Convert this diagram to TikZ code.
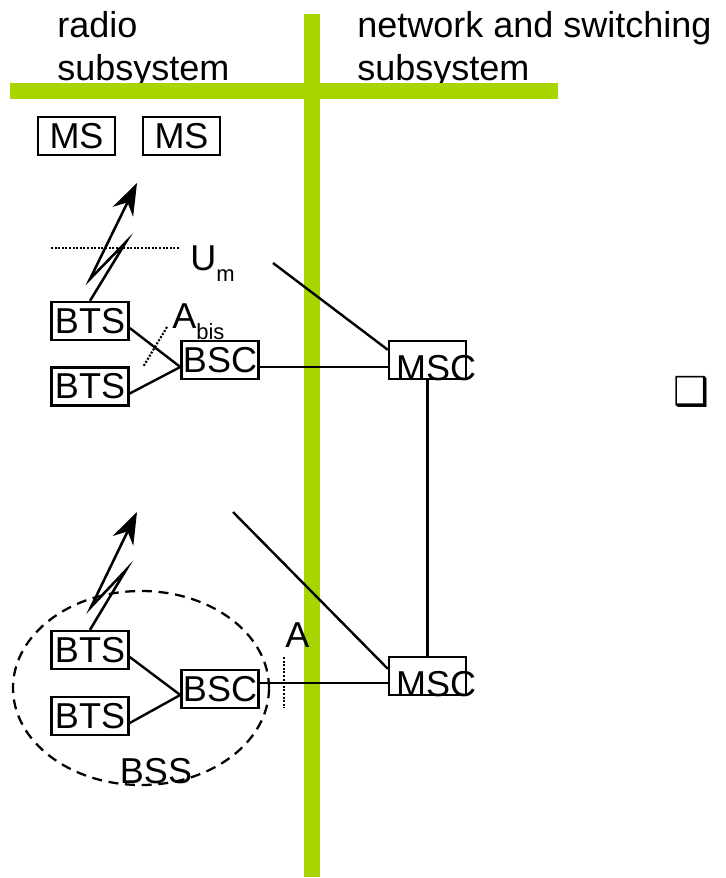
\documentclass[tikz,border=0pt]{standalone}
\usepackage{fontspec}
\setmainfont{Liberation Sans}
\newfontfamily\dingfont{DejaVu Sans}
\usetikzlibrary{positioning,arrows.meta,shapes.geometric}
\definecolor{barGreen}{RGB}{168,212,0}
\newcommand{\lowsub}[1]{\raisebox{-8.25pt}{\fontsize{16.5}{18}\selectfont #1}}

\begin{document}
\begin{tikzpicture}[
  x=0.75pt, y=-0.75pt,
  txt/.style={inner sep=0pt, font=\fontsize{27}{32}\selectfont},
  unit/.style={txt, draw, line width=1.8pt, minimum width=57.75pt,
               minimum height=28.5pt},
  bar/.style={barGreen, line width=12pt},
  link/.style={line width=1.8pt},
  radio/.style={line width=1.9pt, -{Stealth[length=24pt, width=17pt]}},
  iface/.style={line width=1.6pt, dash pattern=on 1.5pt off 1.2pt},
  >=Stealth
]
\useasboundingbox (0,0) rectangle (725,878);

% Headings
\node[txt, anchor=north west, align=left] (radiohd) at (57,11)
  {radio\\subsystem};
\node[txt, anchor=north west, align=left] (nsshd) at (357,11)
  {network and switching\\subsystem};

% Dividing bars
\draw[bar] (10,91) -- (558,91);
\draw[bar] (312,14) -- (312,877);

% Mobile stations
\node[unit] (ms1) at (76.5,136) {MS};
\node[unit] (ms2) at (181.5,136) {MS};

% Upper BSS
\node[unit] (bts1) at (90,321) {BTS};
\node[unit] (bts2) at (90,386.5) {BTS};
\node[unit] (bsc1) at (220,360) {BSC};
\node[unit] (msc1) at (427.5,360) {};
\node[txt, anchor=base west] (msc1t) at ([xshift=6pt]msc1.south west) {MSC};

% Lower BSS
\node[unit] (bts3) at (90,650) {BTS};
\node[unit] (bts4) at (90,716) {BTS};
\node[unit] (bsc2) at (220,689) {BSC};
\node[unit] (msc2) at (427.5,676) {};
\node[txt, anchor=base west] (msc2t) at ([xshift=6pt]msc2.south west) {MSC};
\node[draw, line width=1.7pt, dash pattern=on 7.5pt off 5pt,
      ellipse, minimum width=192pt, minimum height=145.5pt] (bss) at (141,688) {};
\node[txt, anchor=base] (bsslbl) at (156,783) {BSS};

% Radio links
\coordinate (tip1) at (137,183);
\coordinate (tip2) at (137,512);
\draw[radio] (bts1.north) -- (126,242) -- (90,279) -- (tip1);
\draw[radio] (bts3.north) -- (126,570) -- (91,607) -- (tip2);

% Wired links
\draw[link] ([yshift=-5.25pt]bts1.east) -- ([yshift=-5.25pt]bsc1.west);
\draw[link] ([yshift=-5.25pt]bts2.east) -- ([yshift=-5.25pt]bsc1.west);
\draw[link] ([yshift=-5.25pt]bsc1.east) -- ([yshift=-5.25pt]bsc1.east -| msc1.west);
\draw[link] ([yshift=-5.25pt]bts3.east) -- ([yshift=-4.5pt]bsc2.west);
\draw[link] ([yshift=-5.25pt]bts4.east) -- ([yshift=-4.5pt]bsc2.west);
\draw[link] ([yshift=4.5pt]bsc2.east) -- ([yshift=4.5pt]bsc2.east -| msc2.west);
\draw[link] (msc1.south) -- (msc2.north);
\coordinate (nss1) at (273,263);
\coordinate (nss2) at (233,512);
\draw[link] (nss1) -- ([yshift=-7.5pt]msc1.north west);
\draw[link] (nss2) -- ([yshift=-9.75pt]msc2.north west);

% Interfaces
\coordinate (um-l) at (51,248);
\coordinate (um-r) at (180,248);
\draw[iface] (um-l) -- (um-r);
\node[txt, anchor=base west] (umlbl) at (190,270) {U\lowsub{m}};
\coordinate (abis-t) at (167,327);
\coordinate (abis-b) at (143,367);
\draw[iface] (abis-t) -- (abis-b);
\node[txt, anchor=base west] (abislbl) at (172,328) {A\lowsub{bis}};
\coordinate (a-t) at (284,657);
\coordinate (a-b) at (284,708);
\draw[iface] (a-t) -- (a-b);
\node[txt, anchor=base west] (albl) at (285,647) {A};

% Bullet
\node[inner sep=0pt, font=\dingfont\fontsize{30}{30}\selectfont] (bullet)
  at (691,392) {❑};

\end{tikzpicture}
\end{document}
